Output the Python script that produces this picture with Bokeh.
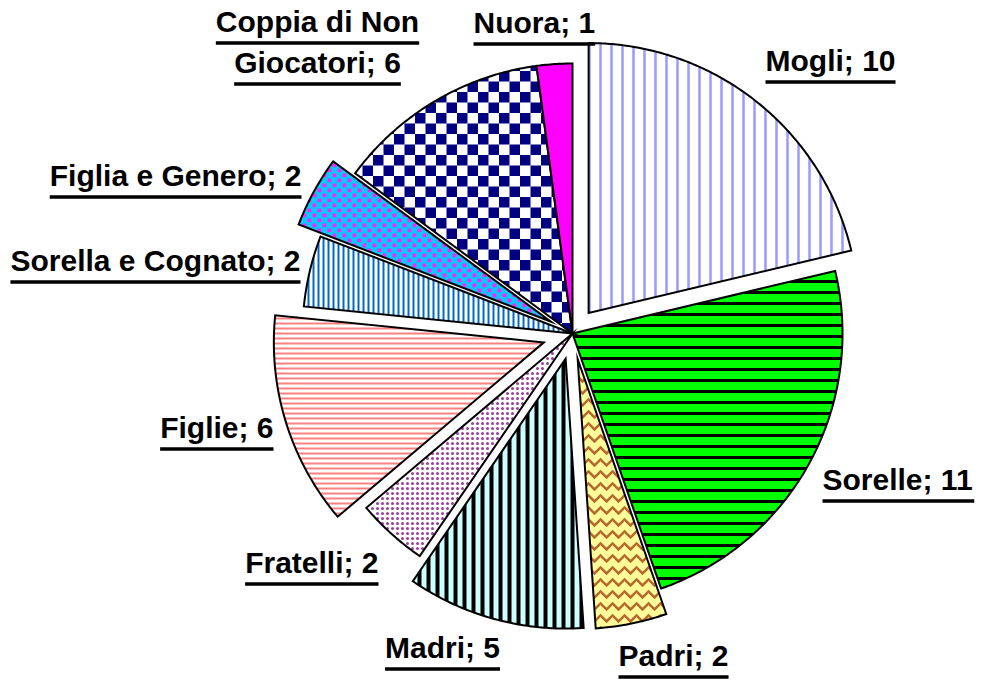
import math
from bokeh.plotting import figure
from bokeh.models import Range1d
from bokeh.core.properties import value
from bokeh.embed import file_html
from bokeh.resources import INLINE

# ---- data ----
names = ["Mogli", "Sorelle", "Padri", "Madri", "Fratelli", "Figlie",
         "Sorella e Cognato", "Figlia e Genero", "Coppia di Non Giocatori", "Nuora"]
counts = [10, 11, 2, 5, 2, 6, 2, 2, 6, 1]

# ---- styles / layout ----
explode_px = [26, 0, 26, 26, 0, 30, 0, 25, 0, 0]
fills = ["#FFFFFF", "#00FF00", "#FFFF99", "#CCFFFF", "#FFFFFF", "#FFFFFF",
         "#FFFFFF", "#00CCFF", "#FFFFFF", "#FF00FF"]
hatches = [("vertical_line", "#9999FF", 11, 2.5),
           ("horizontal_line", "#000000", 11, 3),
           ("horizontal_wave", "#B8682E", 12, 2.5),
           ("vertical_line", "#000000", 9, 4),
           None,
           ("horizontal_line", "#FF8080", 5, 2),
           ("vertical_line", "#0066CC", 5, 2),
           None, None, None]
extra = [None, None, None, None, "dots", None, None, "confetti", "checker", None]
label_x = [765, 822, 618, 442, 378, 273, 300, 301, 317, 473]
label_y = [73, 492, 668, 660, 575, 440, 273, 188, 34, 35]
label_align = ["left", "left", "left", "center", "right", "right", "right", "right", "center", "left"]
CX, CY, R = 572, 333, 270
FONT_PX = 30
LINE_GAP = 41
TEXT_DY = -13   # renderer places the alphabetic baseline lower than the anchor
UL_DY = 8.5

p = figure(width=984, height=680, x_range=Range1d(0, 984), y_range=Range1d(680, 0),
           output_backend="svg", toolbar_location=None, min_border=0,
           x_axis_type=None, y_axis_type=None)
p.grid.visible = False
p.outline_line_color = None
p.background_fill_color = "white"

total = sum(counts)


def pt(a_deg, r, ox, oy):
    t = math.radians(a_deg)
    return ox + r * math.sin(t), oy - r * math.cos(t)


def wedge(a0, a1, ox, oy):
    n = max(int((a1 - a0) / 0.5) + 1, 2)
    poly = [(ox, oy)]
    for k in range(n + 1):
        poly.append(pt(a0 + (a1 - a0) * k / n, R, ox, oy))
    return poly


def signed_area(poly):
    s = 0
    for i in range(len(poly)):
        x1, y1 = poly[i - 1]
        x2, y2 = poly[i]
        s += x1 * y2 - x2 * y1
    return s / 2


def clip(subject, cpoly):
    sgn = 1 if signed_area(cpoly) > 0 else -1
    out = subject
    for i in range(len(cpoly)):
        A = cpoly[i]
        B = cpoly[(i + 1) % len(cpoly)]
        if A == B:
            continue
        inp = out
        out = []
        if not inp:
            break

        def inside(P):
            return sgn * ((B[0] - A[0]) * (P[1] - A[1]) - (B[1] - A[1]) * (P[0] - A[0])) >= 0

        def inter(P, Q):
            x1, y1 = A; x2, y2 = B; x3, y3 = P; x4, y4 = Q
            den = (x1 - x2) * (y3 - y4) - (y1 - y2) * (x3 - x4)
            t = ((x1 - x3) * (y3 - y4) - (y1 - y3) * (x3 - x4)) / den
            return (x1 + t * (x2 - x1), y1 + t * (y2 - y1))

        for j in range(len(inp)):
            P = inp[j - 1]
            Q = inp[j]
            if inside(Q):
                if not inside(P):
                    out.append(inter(P, Q))
                out.append(Q)
            elif inside(P):
                out.append(inter(P, Q))
    return out


def bbox(poly):
    xs = [q[0] for q in poly]; ys = [q[1] for q in poly]
    return min(xs), max(xs), min(ys), max(ys)


start = 0.0
for i, c in enumerate(counts):
    a0 = start
    a1 = start + 360.0 * c / total
    start = a1
    mid = (a0 + a1) / 2
    ox, oy = pt(mid, explode_px[i], CX, CY)
    poly = wedge(a0, a1, ox, oy)
    xs = [q[0] for q in poly]; ys = [q[1] for q in poly]
    kw = {}
    if hatches[i]:
        hp, hc, hs, hw = hatches[i]
        kw = dict(hatch_pattern=hp, hatch_color=hc, hatch_scale=hs, hatch_weight=hw)
    p.patch(xs, ys, fill_color=fills[i], line_color=None, **kw)

    x0, x1, y0, y1 = bbox(poly)
    if extra[i] == "checker":
        cell = 10.5
        pxs, pys = [], []
        i0 = int(math.floor((x0 - CX) / cell)) - 1
        i1 = int(math.ceil((x1 - CX) / cell)) + 1
        j0 = int(math.floor((y0 - CY) / cell)) - 1
        j1 = int(math.ceil((y1 - CY) / cell)) + 1
        for a in range(i0, i1):
            for b in range(j0, j1):
                if (a + b) % 2:
                    continue
                sx = CX + a * cell; sy = CY + b * cell
                sq = [(sx, sy), (sx + cell, sy), (sx + cell, sy + cell), (sx, sy + cell)]
                cp = clip(sq, poly)
                if len(cp) >= 3:
                    pxs.append([q[0] for q in cp]); pys.append([q[1] for q in cp])
        p.patches(pxs, pys, fill_color="#000080", line_color=None)
    elif extra[i] == "confetti":
        hx, hy, sz = 10.0, 5.0, 3.8
        pxs, pys = [], []
        for b in range(int((y0 - CY) / hy) - 2, int((y1 - CY) / hy) + 2):
            off = (hx / 2) if b % 2 else 0
            for a in range(int((x0 - CX) / hx) - 2, int((x1 - CX) / hx) + 2):
                sx = CX + a * hx + off; sy = CY + b * hy
                sq = [(sx, sy), (sx + sz, sy), (sx + sz, sy + sz), (sx, sy + sz)]
                cp = clip(sq, poly)
                if len(cp) >= 3:
                    pxs.append([q[0] for q in cp]); pys.append([q[1] for q in cp])
        p.patches(pxs, pys, fill_color="#FF22FF", line_color=None)
    elif extra[i] == "dots":
        step = 5.0
        dx, dy = [], []
        for b in range(int((y0 - CY) / step) - 2, int((y1 - CY) / step) + 2):
            for a in range(int((x0 - CX) / step) - 2, int((x1 - CX) / step) + 2):
                sx = CX + a * step; sy = CY + b * step
                s = 1.2
                sq = [(sx - s, sy - s), (sx + s, sy - s), (sx + s, sy + s), (sx - s, sy + s)]
                cp = clip(sq, poly)
                if len(cp) >= 3 and abs(signed_area(cp)) > 4 * s * s * 0.95:
                    dx.append(sx); dy.append(sy)
        p.scatter(dx, dy, size=3, fill_color="#9B3F9B", line_color=None)

    p.patch(xs, ys, fill_color=None, line_color="black", line_width=2, line_join="miter")

# ---- labels ----
W = {" ": 278, ";": 333, "0": 556, "1": 556, "2": 556, "5": 556, "6": 556,
     "C": 722, "F": 611, "G": 778, "M": 833, "N": 722, "P": 667, "S": 667,
     "a": 556, "c": 556, "d": 611, "e": 556, "f": 333, "g": 611, "h": 611,
     "i": 278, "l": 278, "n": 611, "o": 611, "p": 611, "r": 389, "s": 556,
     "t": 333, "u": 611, "m": 889}


def tw(s):
    return sum(W.get(ch, 556) for ch in s) * FONT_PX / 1000.0


tx, ty, tt, ta = [], [], [], []
ux0, ux1, uy = [], [], []
for i, nm in enumerate(names):
    full = f"{nm}; {counts[i]}"
    words = full.split(" ")
    lines = [full] if len(full) <= 22 else [" ".join(words[:3]), " ".join(words[3:])]
    for k, ln in enumerate(lines):
        x = label_x[i]
        y = label_y[i] + k * LINE_GAP
        w = tw(ln)
        if label_align[i] == "left":
            l = x
        elif label_align[i] == "right":
            l = x - w
        else:
            l = x - w / 2
        tx.append(x); ty.append(y + TEXT_DY); tt.append(ln); ta.append(label_align[i])
        ux0.append(l); ux1.append(l + w); uy.append(y + UL_DY)

for al in ("left", "right", "center"):
    idx = [j for j in range(len(tt)) if ta[j] == al]
    p.text([tx[j] for j in idx], [ty[j] for j in idx], [tt[j] for j in idx],
           text_align=al, text_baseline="alphabetic", text_font=value("Liberation Sans"),
           text_font_style="bold", text_font_size=f"{FONT_PX}px", text_color="black")
p.segment(ux0, uy, ux1, uy, line_color="black", line_width=3.5, line_cap="butt")

open("out.html", "w").write(file_html(p, INLINE))
